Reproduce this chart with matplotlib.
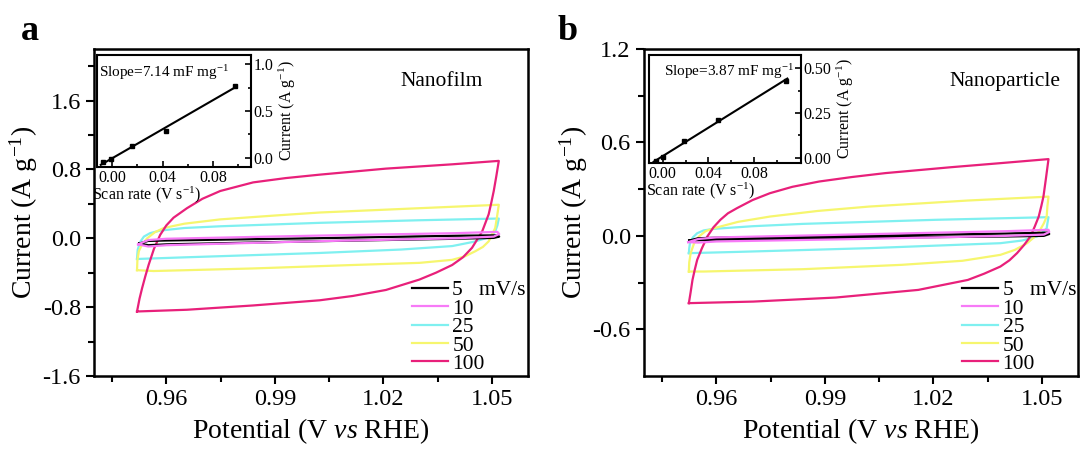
import numpy as np
import matplotlib
matplotlib.use("Agg")
import matplotlib.pyplot as plt

plt.rcParams['font.family'] = ['Liberation Serif', 'DejaVu Serif']
plt.rcParams['mathtext.fontset'] = 'custom'
plt.rcParams['mathtext.rm'] = 'Liberation Serif'
plt.rcParams['mathtext.it'] = 'Liberation Serif:italic'
plt.rcParams['axes.unicode_minus'] = False

# scan rates in legend
RATES = ['5   mV/s', '10', '25', '50', '100']
COLORS = ['#000000', '#f77af7', '#7ff0f0', '#f6f66e', '#e8207a']

# ---- panel a: Nanofilm CV loops (potential V, current A/g)
A5_V = [0.9525, 0.955, 0.96, 1.00, 1.04, 1.0515, 1.052, 1.0505, 1.04, 1.00, 0.96, 0.955, 0.9525]
A5_I = [-0.06, -0.03, -0.025, 0.00, 0.03, 0.035, 0.02, 0.005, -0.005, -0.035, -0.07, -0.08, -0.06]
A10_V = [0.9522, 0.955, 0.96, 1.00, 1.04, 1.0515, 1.052, 1.0505, 1.04, 1.00, 0.96, 0.955, 0.9522]
A10_I = [-0.07, -0.02, -0.005, 0.03, 0.06, 0.075, 0.05, 0.02, 0.0, -0.035, -0.08, -0.095, -0.07]
A25_V = [0.9519, 0.9520, 0.9521, 0.9528, 0.9538, 0.9555, 0.9583, 0.965, 0.9749, 1.0024, 1.0299, 1.0519,
         1.0515, 1.0509, 1.0497, 1.0482, 1.045, 1.039, 1.025, 1.0024, 0.9657, 0.9519]
A25_I = [-0.24, -0.18, -0.13, -0.04, 0.02, 0.06, 0.09, 0.12, 0.14, 0.18, 0.21, 0.23,
         0.15, 0.08, 0.03, 0.00, -0.04, -0.09, -0.13, -0.17, -0.22, -0.24]
A50_V = [0.9519, 0.9520, 0.9524, 0.9533, 0.9547, 0.9568, 0.9593, 0.965, 0.9749, 0.990, 1.0024, 1.0299, 1.0519,
         1.0514, 1.0509, 1.0500, 1.0491, 1.0475, 1.0454, 1.0425, 1.039, 1.030, 1.0115, 0.984, 0.9565, 0.9519]
A50_I = [-0.37, -0.26, -0.15, -0.07, 0.00, 0.07, 0.12, 0.17, 0.22, 0.265, 0.30, 0.35, 0.39,
         0.25, 0.12, 0.04, -0.035, -0.10, -0.15, -0.21, -0.25, -0.285, -0.31, -0.35, -0.38, -0.37]
A100_V = [0.9519, 0.9526, 0.9533, 0.9542, 0.9551, 0.9566, 0.9583, 0.9600, 0.962, 0.9657, 0.970, 0.9749,
          0.984, 0.993, 1.0024, 1.0207, 1.039, 1.0519,
          1.0512, 1.0505, 1.0498, 1.0491, 1.0473, 1.0445, 1.0420, 1.039, 1.0345, 1.0299, 1.0207, 1.0115,
          1.0024, 0.984, 0.9657, 0.9519]
A100_I = [-0.85, -0.70, -0.58, -0.44, -0.31, -0.12, 0.04, 0.15, 0.24, 0.35, 0.46, 0.55,
          0.65, 0.70, 0.74, 0.81, 0.86, 0.90,
          0.72, 0.55, 0.41, 0.28, 0.08, -0.11, -0.22, -0.31, -0.40, -0.48, -0.60, -0.67,
          -0.72, -0.78, -0.83, -0.85]

# ---- panel b: Nanoparticle CV loops
B5_V = [0.9525, 0.955, 0.96, 1.00, 1.04, 1.0518, 1.052, 1.0505, 1.04, 1.00, 0.96, 0.955, 0.9525]
B5_I = [-0.03, -0.015, -0.012, 0.0, 0.015, 0.021, 0.012, 0.0, -0.004, -0.012, -0.024, -0.028, -0.03]
B10_V = [0.9522, 0.955, 0.96, 1.00, 1.04, 1.0518, 1.052, 1.0505, 1.04, 1.00, 0.96, 0.955, 0.9522]
B10_I = [-0.04, -0.02, -0.01, 0.01, 0.03, 0.039, 0.025, 0.008, 0.0, -0.02, -0.036, -0.043, -0.04]
B25_V = [0.9524, 0.9525, 0.9527, 0.9535, 0.9547, 0.9565, 0.9593, 0.9700, 0.9839, 1.0204, 1.0518,
         1.0515, 1.0513, 1.0500, 1.0486, 1.0445, 1.0385, 1.0021, 0.9657, 0.9524]
B25_I = [-0.111, -0.08, -0.047, -0.01, 0.017, 0.035, 0.045, 0.062, 0.077, 0.103, 0.120,
         0.08, 0.049, 0.018, -0.004, -0.03, -0.047, -0.079, -0.103, -0.111]
B50_V = [0.9524, 0.9525, 0.9529, 0.9538, 0.9552, 0.957, 0.9593, 0.966, 0.9748, 0.988, 1.0021, 1.0295, 1.0518,
         1.0515, 1.0513, 1.0505, 1.0495, 1.048, 1.0459, 1.0425, 1.0385, 1.028, 1.0112, 0.9839, 0.9565, 0.9524]
B50_I = [-0.229, -0.17, -0.111, -0.05, -0.004, 0.03, 0.049, 0.09, 0.124, 0.16, 0.188, 0.227, 0.252,
         0.19, 0.124, 0.08, 0.039, -0.005, -0.047, -0.09, -0.122, -0.16, -0.186, -0.214, -0.229, -0.229]
B100_V = [0.9524, 0.9529, 0.9534, 0.9540, 0.9547, 0.9560, 0.9575, 0.9592, 0.9611, 0.9632, 0.9657, 0.970,
          0.9748, 0.981, 0.9884, 0.9975, 1.0067, 1.0249, 1.0385, 1.0518,
          1.0511, 1.0504, 1.0498, 1.0491, 1.0480, 1.0468, 1.0450, 1.0431, 1.0410, 1.0385, 1.0340, 1.0295,
          1.0158, 0.993, 0.9702, 0.9524]
B100_I = [-0.432, -0.36, -0.283, -0.22, -0.154, -0.08, -0.004, 0.055, 0.103, 0.145, 0.178, 0.23,
          0.274, 0.315, 0.349, 0.378, 0.403, 0.441, 0.467, 0.493,
          0.37, 0.252, 0.19, 0.124, 0.06, -0.004, -0.06, -0.111, -0.157, -0.197, -0.243, -0.283,
          -0.347, -0.396, -0.422, -0.432]

# ---- insets: current vs scan rate
INSET_A_X = [-0.007, -0.001, 0.016, 0.043, 0.097]
INSET_A_Y = [-0.05, -0.014, 0.128, 0.287, 0.766]
INSET_B_X = [-0.006, 0.0, 0.019, 0.048, 0.108]
INSET_B_Y = [-0.019, 0.003, 0.092, 0.213, 0.431]


def style_main(ax, ylim, yticks, yminor):
    ax.set_xlim(0.94, 1.06)
    ax.set_ylim(*ylim)
    ax.set_xticks([0.96, 0.99, 1.02, 1.05])
    ax.set_xticklabels(['0.96', '0.99', '1.02', '1.05'])
    ax.set_xticks([0.945, 0.975, 1.005, 1.035], minor=True)
    ax.set_yticks(yticks)
    ax.set_yticks(yminor, minor=True)
    ax.tick_params(which='both', direction='out', width=1.5, labelsize=17.5, top=False, right=False)
    ax.tick_params(which='major', length=6)
    ax.tick_params(which='minor', length=4)
    for s in ax.spines.values():
        s.set_linewidth(1.8)
    ax.set_xlabel('Potential (V $\\mathit{vs}$ RHE)', fontsize=20, labelpad=4)
    ax.set_ylabel('Current (A g$^{-1}$)', fontsize=20, labelpad=2)


def style_inset(ax, xs, ys, ylim, yticks, yminor, xlim, slope_txt, txt_x, xlab_x):
    ax.plot(xs, ys, 's', color='black', ms=3.5)
    k, b = np.polyfit(xs, ys, 1)
    fx = np.array([xs[0] - 0.002, xs[-1] + 0.001])
    ax.plot(fx, k * fx + b, color='black', lw=1.5)
    ax.set_xlim(*xlim)
    ax.set_ylim(*ylim)
    ax.set_xticks([0.0, 0.04, 0.08])
    ax.set_xticklabels(['0.00', '0.04', '0.08'])
    ax.set_xticks([0.02, 0.06, 0.10], minor=True)
    ax.set_yticks(yticks)
    ax.set_yticks(yminor, minor=True)
    ax.yaxis.tick_right()
    ax.yaxis.set_label_position('right')
    ax.tick_params(which='both', direction='in', width=1.2, labelsize=11.5, pad=2)
    ax.tick_params(which='major', length=4)
    ax.tick_params(which='minor', length=2.5)
    for s in ax.spines.values():
        s.set_linewidth(1.5)
    ax.set_xlabel('Scan rate (V s$^{-1}$)', fontsize=11.5)
    ax.xaxis.set_label_coords(xlab_x, -0.16)
    ax.set_ylabel('Current (A g$^{-1}$)', fontsize=11.5, labelpad=2)
    ax.text(txt_x, 0.93, slope_txt, transform=ax.transAxes, fontsize=11, va='top')


fig = plt.figure(figsize=(10.8, 4.5), dpi=100)
ax_a = fig.add_axes([0.087, 0.1644, 0.402, 0.7267])
ax_b = fig.add_axes([0.5963, 0.1644, 0.402, 0.7267])

for ax, curves in [(ax_a, [(A5_V, A5_I), (A10_V, A10_I), (A25_V, A25_I), (A50_V, A50_I), (A100_V, A100_I)]),
                   (ax_b, [(B5_V, B5_I), (B10_V, B10_I), (B25_V, B25_I), (B50_V, B50_I), (B100_V, B100_I)])]:
    handles = []
    for (v, i), c, lab in zip(curves, COLORS, RATES):
        h, = ax.plot(v, i, color=c, lw=1.6, label=lab)
        handles.append(h)
    # draw the small loops on top like the original
    for h in handles[:2]:
        h.set_zorder(3)
    ax.legend(loc='lower right', frameon=False, fontsize=15.5, handlelength=1.7, handletextpad=0.2,
              labelspacing=-0.08, borderaxespad=0.05, borderpad=0.05)

style_main(ax_a, (-1.6, 2.2), [-1.6, -0.8, 0.0, 0.8, 1.6], [-1.2, -0.4, 0.4, 1.2, 2.0])
style_main(ax_b, (-0.9, 1.2), [-0.6, 0.0, 0.6, 1.2], [-0.3, 0.3, 0.9])

ax_a.text(0.80, 0.9, 'Nanofilm', transform=ax_a.transAxes, fontsize=15.5, ha='center', va='center')
ax_b.text(0.832, 0.9, 'Nanoparticle', transform=ax_b.transAxes, fontsize=15.5, ha='center', va='center')

fig.text(0.019, 0.91, 'a', fontsize=26, fontweight='bold')
fig.text(0.516, 0.91, 'b', fontsize=26, fontweight='bold')

in_a = fig.add_axes([0.0898, 0.629, 0.1426, 0.249])
style_inset(in_a, INSET_A_X, INSET_A_Y, (-0.1, 1.1), [0.0, 0.5, 1.0], [0.25, 0.75],
            (-0.012, 0.110), 'Slope=7.14 mF mg$^{-1}$', 0.01, 0.32)
in_b = fig.add_axes([0.601, 0.638, 0.1407, 0.24])
style_inset(in_b, INSET_B_X, INSET_B_Y, (-0.028, 0.574), [0.0, 0.25, 0.50], [0.125, 0.375],
            (-0.012, 0.121), 'Slope=3.87 mF mg$^{-1}$', 0.1, 0.34)
in_b.set_yticklabels(['0.00', '0.25', '0.50'])

fig.savefig('out.png', dpi=100)
